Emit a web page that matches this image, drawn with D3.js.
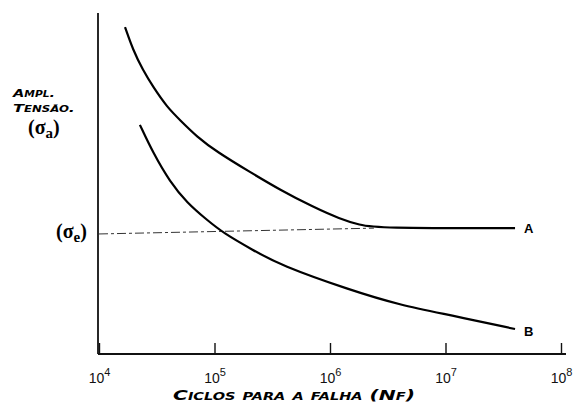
<!DOCTYPE html>
<html lang="pt">
<head>
    <meta charset="UTF-8">
    <title>Curva S-N</title>
    <script src="https://cdn.jsdelivr.net/npm/d3@7/dist/d3.min.js"></script>
    <style>
        body{margin:0;background:#fff}
    </style>
</head>
<body>
<div class="chart"></div>
<script>
    //data
    let cyclesA=[1.68e4,1.97e4,2.4e4,2.94e4,3.88e4,5.03e4,7.05e4,1.05e5,2.03e5,3.69e5,7.12e5,1.22e6,1.82e6,2.5e6,4.0e7]
    let stressA=[95.6,88.9,83.0,78.1,72.2,68.4,63.5,59.1,53.2,48.0,43.0,39.5,37.7,36.8,36.8]
    let cyclesB=[2.26e4,2.94e4,4.12e4,5.78e4,8.61e4,1.19e5,2.15e5,3.69e5,1.49e6,4.04e6,1.09e7,4.0e7]
    let stressB=[67.0,58.8,50.3,44.2,39.2,35.4,30.4,26.0,18.7,14.3,11.4,7.3]
    let cyclesE=[1e4,2.4e6]
    let stressE=[35.1,36.8]
    let tickValues=[1e4,1e5,1e6,1e7,1e8]
    let tickExp=['4','5','6','7','8']

    //scales
    let width=573,height=403
    let xScale=d3.scaleLog().domain([1e4,1e8]).range([99,561])
    let yScale=d3.scaleLinear().domain([0,100]).range([354,12])

    let svg=d3.select('.chart').append('svg').attr('width',width).attr('height',height)
        .style('font-family','"Liberation Sans", Arial, sans-serif')

    //axes
    let xAxis=d3.axisBottom(xScale).tickValues(tickValues).tickSizeInner(-11).tickSizeOuter(0).tickFormat(()=>'')
    let gx=svg.append('g').attr('transform','translate(0,'+yScale(0)+')').call(xAxis)
    gx.select('.domain').remove()
    gx.selectAll('.tick line').attr('stroke','#111').attr('stroke-width',1.4)
    gx.selectAll('.tick text').each(function(d,i){
        let t=d3.select(this).attr('y',29).attr('dy',0).attr('font-size',14).attr('fill','#111').text('10')
        t.append('tspan').attr('dy',-7).attr('font-size',11).text(tickExp[i])
    })
    svg.append('line').attr('x1',98).attr('x2',566).attr('y1',yScale(0)).attr('y2',yScale(0))
        .attr('stroke','#111').attr('stroke-width',1.8)
    svg.append('line').attr('x1',98).attr('x2',98).attr('y1',yScale(0)).attr('y2',13)
        .attr('stroke','#111').attr('stroke-width',1.8)

    //curves
    let line=d3.line().x(d=>xScale(d[0])).y(d=>yScale(d[1])).curve(d3.curveBasis)
    svg.append('path').datum(cyclesE.map((c,i)=>[c,stressE[i]])).attr('d',line)
        .attr('fill','none').attr('stroke','#333').attr('stroke-width',1).attr('stroke-dasharray','9,3,3,3')
    svg.append('path').datum(cyclesA.map((c,i)=>[c,stressA[i]])).attr('d',line)
        .attr('fill','none').attr('stroke','#000').attr('stroke-width',2.2)
    svg.append('path').datum(cyclesB.map((c,i)=>[c,stressB[i]])).attr('d',line)
        .attr('fill','none').attr('stroke','#000').attr('stroke-width',2.2)

    //curve labels
    svg.append('text').attr('x',xScale(cyclesA[cyclesA.length-1])+9).attr('y',yScale(stressA[stressA.length-1])+5)
        .attr('font-size',13).attr('font-weight','bold').text('A')
    svg.append('text').attr('x',xScale(cyclesB[cyclesB.length-1])+9).attr('y',yScale(stressB[stressB.length-1])+7)
        .attr('font-size',13).attr('font-weight','bold').text('B')

    //titles
    let capStyle=t=>t.style('font-family','"DejaVu Sans", sans-serif').style('font-style','italic')
        .style('font-weight','bold').style('font-variant','small-caps')
    capStyle(svg.append('text').attr('x',173).attr('y',400).attr('font-size',14)
        .attr('textLength',242).attr('lengthAdjust','spacingAndGlyphs').text('Ciclos para a falha (Nf)'))
    capStyle(svg.append('text').attr('x',13).attr('y',97).attr('font-size',11)
        .attr('textLength',42).attr('lengthAdjust','spacingAndGlyphs').text('Ampl.'))
    capStyle(svg.append('text').attr('x',13).attr('y',112).attr('font-size',11)
        .attr('textLength',62).attr('lengthAdjust','spacingAndGlyphs').text('Tensão.'))

    let serif='"Liberation Serif", "DejaVu Serif", serif'
    let sa=svg.append('text').attr('x',28).attr('y',134).attr('font-size',20).attr('font-weight','bold')
        .style('font-family',serif).text('(σ')
    sa.append('tspan').attr('dy',4).attr('font-size',15).text('a')
    sa.append('tspan').attr('dy',-4).text(')')
    let se=svg.append('text').attr('x',56).attr('y',238).attr('font-size',20).attr('font-weight','bold')
        .style('font-family',serif).text('(σ')
    se.append('tspan').attr('dy',4).attr('font-size',15).text('e')
    se.append('tspan').attr('dy',-4).text(')')
</script>
</body>
</html>
